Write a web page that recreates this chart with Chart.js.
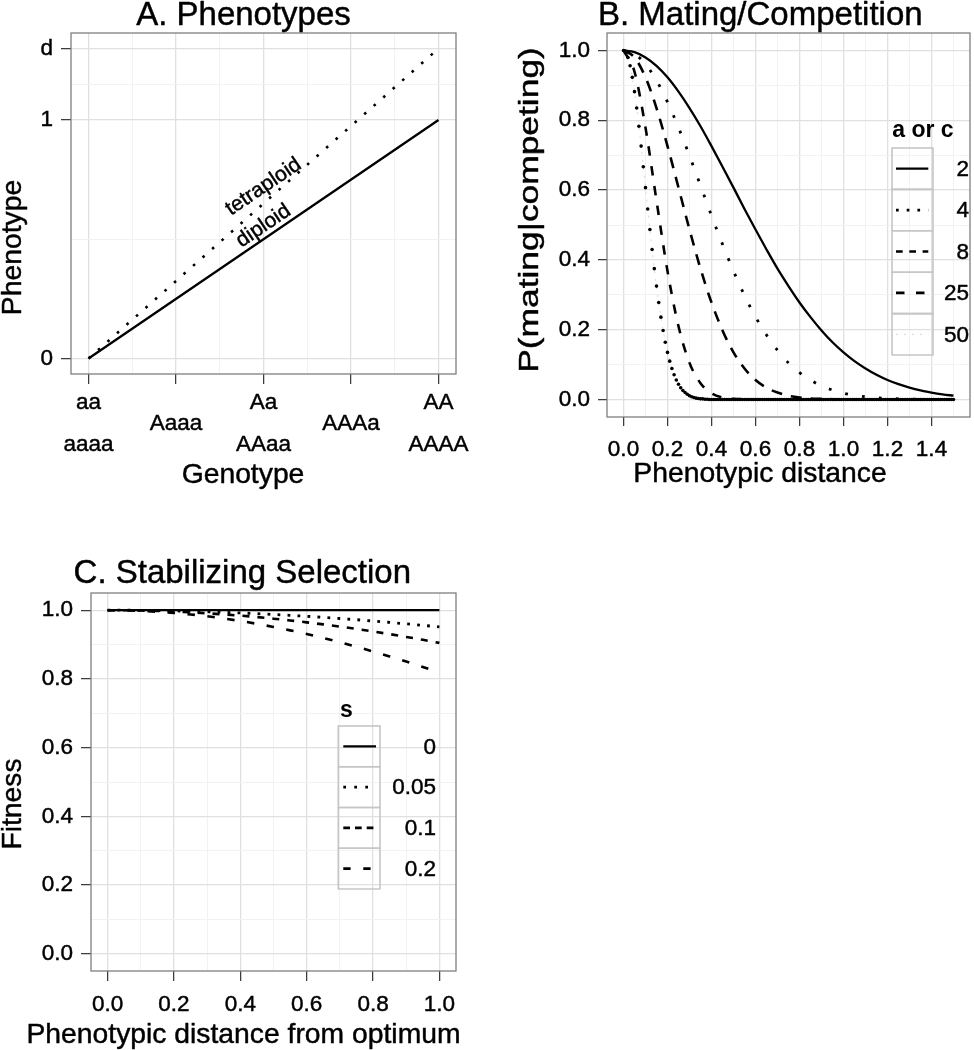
<!DOCTYPE html>
<html><head><meta charset="utf-8">
<script src="https://cdn.jsdelivr.net/npm/chart.js@4.4.1/dist/chart.umd.min.js"></script>
<style>
html,body{margin:0;padding:0;background:#fff;}
#wrap{position:relative;width:974px;height:1050px;overflow:hidden;background:#fff;}
canvas{position:absolute;display:block;}
</style></head><body>
<div id="wrap">
<canvas id="cA" width="487" height="500" style="left:0;top:0"></canvas>
<canvas id="cB" width="487" height="500" style="left:487px;top:0"></canvas>
<canvas id="cC" width="487" height="550" style="left:0;top:500px"></canvas>
</div>
<script>
// ---------------- DATA ----------------
// Panel A: phenotypes by genotype
const genotypeIndex = [0, 1, 2, 3, 4];
const genotypeLabels = [["aa", "aaaa"], ["Aaaa"], ["Aa", "AAaa"], ["AAAa"], ["AA", "AAAA"]];
const diploidGenotype = [0, 2, 4];
const diploidPhenotype = [0, 0.5, 1];
const tetraploidGenotype = [0, 1, 2, 3, 4];
const tetraploidPhenotype = [0, 0.325, 0.65, 0.975, 1.3];
const phenotypeTicks = [0, 1, 1.3];
const phenotypeTickLabels = ["0", "1", "d"];
const phenotypeMinor = [0.5, 1.15];
const genotypeMinor = [0.5, 1.5, 2.5, 3.5];
const lineLabels = ["tetraploid", "diploid"];
const lineLabelX = [2, 2];
const lineLabelY = [0.72, 0.556];

// Panel B: mating / competition kernel
const matingLegendTitle = "a or c";
const matingLevels = ["2", "4", "8", "25", "50"];
const distanceB = [0,0.05,0.1,0.15,0.2,0.25,0.3,0.35,0.4,0.45,0.5,0.55,0.6,0.65,0.7,0.75,0.8,0.85,0.9,0.95,1.0,1.05,1.1,1.15,1.2,1.25,1.3,1.35,1.4,1.45,1.5];
const matingA2  = [1,0.995,0.980,0.956,0.923,0.882,0.835,0.783,0.726,0.667,0.607,0.546,0.487,0.430,0.375,0.325,0.278,0.236,0.198,0.164,0.135,0.110,0.089,0.071,0.056,0.044,0.034,0.026,0.020,0.015,0.011];
const matingA4  = [1,0.990,0.961,0.914,0.852,0.779,0.698,0.613,0.527,0.445,0.368,0.298,0.237,0.185,0.141,0.105,0.077,0.056,0.039,0.027,0.018,0.012,0.008,0.005,0.003,0.002,0.001,0.001,0,0,0];
const matingA8  = [1,0.980,0.923,0.835,0.726,0.607,0.487,0.375,0.278,0.198,0.135,0.089,0.056,0.034,0.020,0.011,0.006,0.003,0.002,0.001,0,0,0,0,0,0,0,0,0,0,0];
const matingA25 = [1,0.939,0.779,0.570,0.368,0.210,0.105,0.047,0.018,0.006,0.002,0.001,0,0,0,0,0,0,0,0,0,0,0,0,0,0,0,0,0,0,0];
const distanceB50 = [
 0,0.01,0.02,0.03,0.04,0.05,0.06,0.07,0.08,0.09,
 0.1,0.11,0.12,0.13,0.14,0.15,0.16,0.17,0.18,0.19,
 0.2,0.21,0.22,0.23,0.24,0.25,0.26,0.27,0.28,0.29,
 0.3,0.31,0.32,0.33,0.34,0.35,0.36,0.37,0.38,0.39,
 0.4,0.41,0.42,0.43,0.44,0.45,0.46,0.47,0.48,0.49,
 0.5,0.51,0.52,0.53,0.54,0.55,0.56,0.57,0.58,0.59,
 0.6,0.61,0.62,0.63,0.64,0.65,0.66,0.67,0.68,0.69,
 0.7,0.71,0.72,0.73,0.74,0.75,0.76,0.77,0.78,0.79,
 0.8,0.81,0.82,0.83,0.84,0.85,0.86,0.87,0.88,0.89,
 0.9,0.91,0.92,0.93,0.94,0.95,0.96,0.97,0.98,0.99,
 1.0,1.01,1.02,1.03,1.04,1.05,1.06,1.07,1.08,1.09,
 1.1,1.11,1.12,1.13,1.14,1.15,1.16,1.17,1.18,1.19,
 1.2,1.21,1.22,1.23,1.24,1.25,1.26,1.27,1.28,1.29,
 1.3,1.31,1.32,1.33,1.34,1.35,1.36,1.37,1.38,1.39,
 1.4,1.41,1.42,1.43,1.44,1.45,1.46,1.47,1.48,1.49,
 1.5];
const matingA50 = [
 1,0.995,0.980,0.956,0.923,0.882,0.835,0.783,0.726,0.667,
 0.607,0.546,0.487,0.430,0.375,0.325,0.278,0.236,0.198,0.164,
 0.135,0.110,0.089,0.071,0.056,0.044,0.034,0.026,0.020,0.015,
 0.011,0.008,0.006,0.004,0.003,0.002,0.002,0.001,0.001,0,
 0,0,0,0,0,0,0,0,0,0,
 0,0,0,0,0,0,0,0,0,0,
 0,0,0,0,0,0,0,0,0,0,
 0,0,0,0,0,0,0,0,0,0,
 0,0,0,0,0,0,0,0,0,0,
 0,0,0,0,0,0,0,0,0,0,
 0,0,0,0,0,0,0,0,0,0,
 0,0,0,0,0,0,0,0,0,0,
 0,0,0,0,0,0,0,0,0,0,
 0,0,0,0,0,0,0,0,0,0,
 0,0,0,0,0,0,0,0,0,0,
 0];
const distanceBTicks = [0, 0.2, 0.4, 0.6, 0.8, 1.0, 1.2, 1.4];
const distanceBMinor = [0.1, 0.3, 0.5, 0.7, 0.9, 1.1, 1.3, 1.5];
const probTicks = [0, 0.2, 0.4, 0.6, 0.8, 1.0];
const probMinor = [0.1, 0.3, 0.5, 0.7, 0.9];

// Panel C: stabilizing selection
const selectionLegendTitle = "s";
const selectionLevels = ["0", "0.05", "0.1", "0.2"];
const distanceC = [0,0.05,0.1,0.15,0.2,0.25,0.3,0.35,0.4,0.45,0.5,0.55,0.6,0.65,0.7,0.75,0.8,0.85,0.9,0.95,1.0];
const fitnessS0   = [1,1,1,1,1,1,1,1,1,1,1,1,1,1,1,1,1,1,1,1,1];
const fitnessS005 = [1,1.000,0.9995,0.9989,0.998,0.9969,0.9955,0.9939,0.992,0.9899,0.9876,0.985,0.9822,0.9791,0.9758,0.9723,0.9685,0.9645,0.9603,0.9559,0.9512];
const fitnessS01  = [1,0.9998,0.999,0.9978,0.996,0.9938,0.991,0.9878,0.9841,0.98,0.9753,0.9702,0.9646,0.9586,0.9522,0.9453,0.938,0.9303,0.9222,0.9138,0.9048];
const fitnessS02  = [1,0.9995,0.998,0.9955,0.992,0.9876,0.9822,0.9758,0.9685,0.9603,0.9512,0.9413,0.9305,0.919,0.9068,0.8936,0.8799,0.8655,0.8504,0.8348,0.8187];
const distanceCTicks = [0, 0.2, 0.4, 0.6, 0.8, 1.0];
const distanceCMinor = [0.1, 0.3, 0.5, 0.7, 0.9];

// ---------------- RENDERING ----------------
const FONT = '"Liberation Sans", Arial, Helvetica, sans-serif';
const TEXT_STROKE = 0.45;
Chart.defaults.font.family = FONT;
Chart.defaults.color = '#000';

const pts = (xs, ys) => xs.map((x, i) => ({ x: x, y: ys[i] }));

function axis(o) {
  const isMajor = v => o.majors.some(m => Math.abs(m - v) < 1e-6);
  return {
    type: 'linear', min: o.min, max: o.max,
    afterBuildTicks: s => {
      s.ticks = o.majors.concat(o.minors).sort((a, b) => a - b).map(v => ({ value: v }));
    },
    afterFit: s => { s[o.fitKey] = o.fit; },
    ticks: {
      display: !o.hide, autoSkip: false, maxRotation: 0, minRotation: 0,
      padding: o.pad, font: { size: 22.5 }, color: '#000',
      textStrokeColor: '#000', textStrokeWidth: TEXT_STROKE,
      callback: v => isMajor(v) ? o.fmt(v) : ''
    },
    grid: {
      color: c => (c.tick && isMajor(c.tick.value)) ? '#e0e0e0' : '#f2f2f2',
      lineWidth: c => (c.tick && isMajor(c.tick.value)) ? 1.3 : 1.0,
      tickColor: c => (c.tick && isMajor(c.tick.value)) ? '#333333' : 'rgba(0,0,0,0)',
      tickLength: o.tickLen, tickWidth: 1.2, drawTicks: true
    },
    border: { display: false }
  };
}

function drawText(ctx, text, x, y) {
  ctx.lineWidth = TEXT_STROKE; ctx.strokeStyle = '#000'; ctx.lineJoin = 'round';
  ctx.strokeText(text, x, y);
  ctx.fillText(text, x, y);
}

const decor = {
  id: 'decor',
  afterDraw(chart, args, opts) {
    const ctx = chart.ctx, ca = chart.chartArea;
    ctx.save();
    ctx.setLineDash([]);
    // annotations in data coordinates
    (opts.notes || []).forEach(n => {
      ctx.save();
      ctx.font = n.size + 'px ' + FONT;
      ctx.fillStyle = '#000'; ctx.textAlign = 'center'; ctx.textBaseline = 'middle';
      ctx.translate(chart.scales.x.getPixelForValue(n.x), chart.scales.y.getPixelForValue(n.y));
      ctx.rotate(n.rot * Math.PI / 180);
      drawText(ctx, n.text, 0, 0);
      ctx.restore();
    });
    // panel border
    ctx.strokeStyle = '#7f7f7f'; ctx.lineWidth = 1.3;
    ctx.strokeRect(ca.left, ca.top, ca.right - ca.left, ca.bottom - ca.top);
    // custom multi-line x tick labels
    if (opts.xLabels) {
      const X = opts.xLabels;
      ctx.font = X.size + 'px ' + FONT;
      ctx.fillStyle = '#000'; ctx.textAlign = 'center'; ctx.textBaseline = 'alphabetic';
      X.labels.forEach((lines, i) => {
        const px = chart.scales.x.getPixelForValue(X.values[i]);
        lines.forEach((t, j) => {
          drawText(ctx, t, px, X.mid + (j - (lines.length - 1) / 2) * X.gap);
        });
      });
    }
    // titles
    (opts.texts || []).forEach(t => {
      ctx.save();
      ctx.font = (t.bold ? 'bold ' : '') + t.size + 'px ' + FONT;
      ctx.fillStyle = '#000'; ctx.textAlign = t.align || 'center'; ctx.textBaseline = 'alphabetic';
      ctx.translate(t.x, t.y);
      if (t.rot) ctx.rotate(t.rot * Math.PI / 180);
      if (t.stretch) ctx.scale(t.stretch, 1);
      drawText(ctx, t.text, 0, 0);
      ctx.restore();
    });
    // legend
    if (opts.legend) {
      const L = opts.legend;
      ctx.font = 'bold ' + L.titleSize + 'px ' + FONT;
      ctx.fillStyle = '#000'; ctx.textAlign = 'left'; ctx.textBaseline = 'alphabetic';
      ctx.fillText(L.title, L.titleX, L.titleY);
      L.items.forEach((it, i) => {
        const y0 = L.boxY + i * L.rowH, cy = y0 + L.rowH / 2;
        ctx.setLineDash([]); ctx.strokeStyle = '#c6c6c6'; ctx.lineWidth = 1.6;
        ctx.strokeRect(L.boxX, y0, L.boxW, L.rowH);
        ctx.strokeStyle = it.color; ctx.lineWidth = it.width; ctx.setLineDash(it.dash); ctx.lineCap = 'butt';
        ctx.beginPath(); ctx.moveTo(L.lineX0, cy); ctx.lineTo(L.lineX1, cy); ctx.stroke();
        ctx.setLineDash([]);
        ctx.font = L.size + 'px ' + FONT; ctx.textAlign = 'right'; ctx.textBaseline = 'middle';
        drawText(ctx, it.label, L.labelX, cy + 1);
      });
    }
    ctx.restore();
  }
};

function baseOptions(padding, scales, decorOpts) {
  return {
    responsive: false, animation: false, devicePixelRatio: 1,
    layout: { padding: padding },
    scales: scales,
    plugins: { legend: { display: false }, tooltip: { enabled: false }, title: { display: false }, decor: decorOpts }
  };
}

// ---------- Panel A ----------
new Chart(document.getElementById('cA'), {
  type: 'line',
  data: { datasets: [
    { data: pts(diploidGenotype, diploidPhenotype), borderColor: '#000', borderWidth: 2.3, pointRadius: 0, tension: 0, fill: false },
    { data: pts(tetraploidGenotype, tetraploidPhenotype), borderColor: '#000', borderWidth: 2.6, borderDash: [2.6, 10.1], pointRadius: 0, tension: 0, fill: false }
  ]},
  options: baseOptions({ left: 0, top: 33, right: 31, bottom: 0 }, {
    x: axis({ min: -0.2, max: 4.2, majors: genotypeIndex, minors: genotypeMinor, fmt: v => '', tickLen: 10, pad: 6, hide: true, fitKey: 'height', fit: 126 }),
    y: axis({ min: -0.065, max: 1.365, majors: phenotypeTicks, minors: phenotypeMinor,
      fmt: v => phenotypeTickLabels[phenotypeTicks.findIndex(m => Math.abs(m - v) < 1e-6)], tickLen: 10, pad: 8, fitKey: 'width', fit: 71 })
  }, {
    notes: lineLabels.map((t, i) => ({ text: t, x: lineLabelX[i], y: lineLabelY[i], rot: -34, size: 21 })),
    xLabels: { labels: genotypeLabels, values: genotypeIndex, mid: 430, gap: 42, size: 22.5 },
    texts: [
      { text: 'A. Phenotypes', x: 243.5, y: 25, size: 33 },
      { text: 'Genotype', x: 243, y: 483, size: 28.3 },
      { text: 'Phenotype', x: 20.5, y: 247.5, size: 28.3, rot: -90 }
    ]
  }),
  plugins: [decor]
});

// ---------- Panel B ----------
const bStyles = [
  { color: '#000', width: 2.3, dash: [] },
  { color: '#000', width: 2.8, dash: [2.8, 14.2] },
  { color: '#000', width: 2.6, dash: [11, 9] },
  { color: '#000', width: 2.6, dash: [9.5, 10.5] },
  { color: '#d6d6d6', width: 1.0, dash: [2, 6] }
];
const bLegendDash = [[], [2.7, 8], [6.7, 6.6], [8.5, 11.5], [2, 6]];
const bSeries = [matingA2, matingA4, matingA8, matingA25];
const bDatasets = bSeries.map((ys, i) => ({
  data: pts(distanceB, ys), borderColor: bStyles[i].color, borderWidth: bStyles[i].width,
  borderDash: bStyles[i].dash, pointRadius: 0, cubicInterpolationMode: 'monotone', fill: false, order: 1
}));
bDatasets.push({
  data: pts(distanceB50, matingA50), borderColor: bStyles[4].color, borderWidth: bStyles[4].width, borderDash: bStyles[4].dash,
  pointRadius: 1.8, pointBackgroundColor: '#000', pointBorderWidth: 0, tension: 0, fill: false, order: 0
});
new Chart(document.getElementById('cB'), {
  type: 'line',
  data: { datasets: bDatasets },
  options: baseOptions({ left: 0, top: 33, right: 2, bottom: 0 }, {
    x: axis({ min: -0.075, max: 1.575, majors: distanceBTicks, minors: distanceBMinor, fmt: v => v.toFixed(1), tickLen: 9, pad: 10, fitKey: 'height', fit: 83 }),
    y: axis({ min: -0.05, max: 1.05, majors: probTicks, minors: probMinor, fmt: v => v.toFixed(1), tickLen: 9, pad: 8, fitKey: 'width', fit: 120 })
  }, {
    texts: [
      { text: 'B. Mating/Competition', x: 273.3, y: 25, size: 33 },
      { text: 'Phenotypic distance', x: 273, y: 482, size: 28.3 },
      { text: 'P(mating|competing)', x: 50.5, y: 210, size: 28.3, rot: -90, stretch: 1.25 }
    ],
    legend: {
      title: matingLegendTitle, titleSize: 23, titleX: 405.3, titleY: 136.7,
      boxX: 405, boxY: 148, boxW: 41, rowH: 41.4, lineX0: 409, lineX1: 441.3, labelX: 482, size: 22.5,
      items: matingLevels.map((lab, i) => ({ label: lab, color: bStyles[i].color, width: bStyles[i].width, dash: bLegendDash[i] }))
    }
  }),
  plugins: [decor]
});

// ---------- Panel C ----------
const cStyles = [
  { color: '#000', width: 2.3, dash: [] },
  { color: '#000', width: 2.8, dash: [2.8, 7.2] },
  { color: '#000', width: 2.6, dash: [7, 8] },
  { color: '#000', width: 2.6, dash: [7.5, 12.5] }
];
const cLegendDash = [[], [2.7, 8.3], [6.7, 5], [7.3, 12.7]];
const cSeries = [fitnessS0, fitnessS005, fitnessS01, fitnessS02];
new Chart(document.getElementById('cC'), {
  type: 'line',
  data: { datasets: cSeries.map((ys, i) => ({
    data: pts(distanceC, ys), borderColor: cStyles[i].color, borderWidth: cStyles[i].width,
    borderDash: cStyles[i].dash, pointRadius: 0, cubicInterpolationMode: 'monotone', fill: false
  })) },
  options: baseOptions({ left: 0, top: 93, right: 31, bottom: 0 }, {
    x: axis({ min: -0.05, max: 1.05, majors: distanceCTicks, minors: distanceCMinor, fmt: v => v.toFixed(1), tickLen: 10, pad: 10, fitKey: 'height', fit: 79 }),
    y: axis({ min: -0.05, max: 1.05, majors: probTicks, minors: probMinor, fmt: v => v.toFixed(1), tickLen: 10, pad: 8, fitKey: 'width', fit: 91 })
  }, {
    texts: [
      { text: 'C. Stabilizing Selection', x: 242.3, y: 83.3, size: 33 },
      { text: 'Phenotypic distance from optimum', x: 243.5, y: 543, size: 28.3 },
      { text: 'Fitness', x: 20.7, y: 304, size: 28.3, rot: -90 }
    ],
    legend: {
      title: selectionLegendTitle, titleSize: 23, titleX: 340, titleY: 216.7,
      boxX: 338.3, boxY: 226, boxW: 41.7, rowH: 40.75, lineX0: 343.3, lineX1: 376, labelX: 436, size: 22.5,
      items: selectionLevels.map((lab, i) => ({ label: lab, color: cStyles[i].color, width: cStyles[i].width, dash: cLegendDash[i] }))
    }
  }),
  plugins: [decor]
});
</script>
</body></html>
